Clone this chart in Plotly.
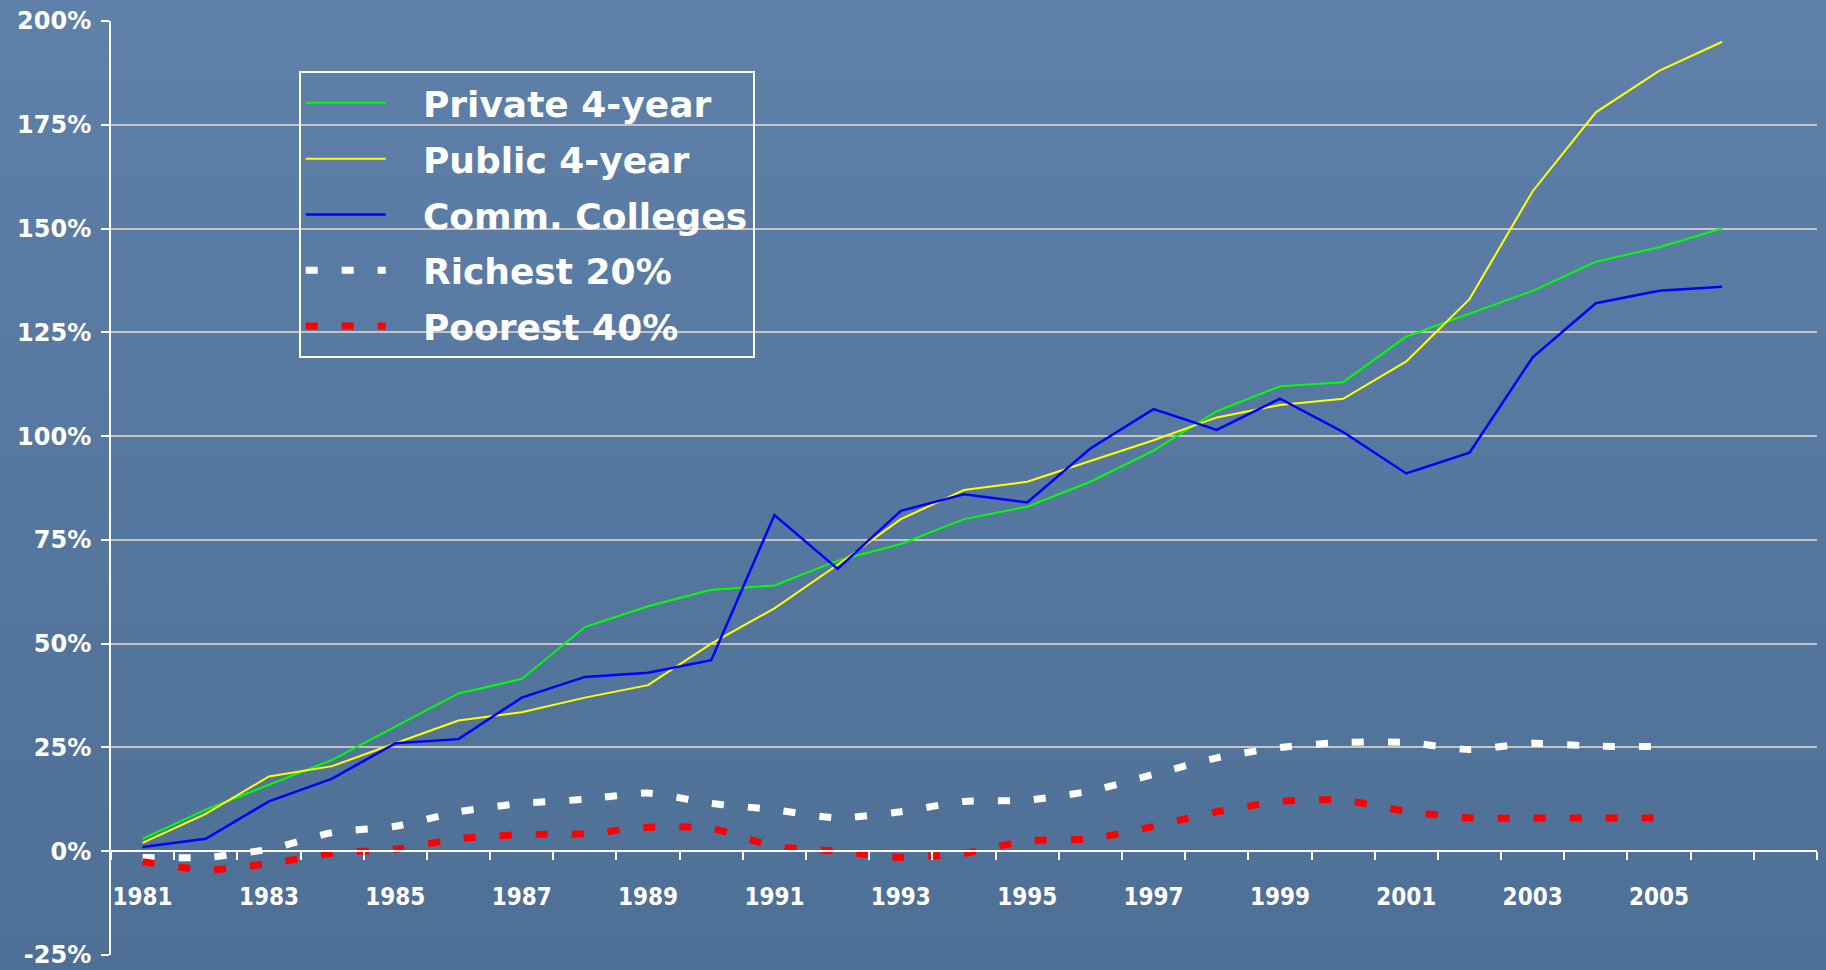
import plotly.graph_objects as go

years = list(range(1981, 2007))
years_dash = list(range(1981, 2006))

private_4yr = [3, 10, 16, 22, 30, 38, 41.5, 54, 59, 63, 64, 70, 74, 80, 83, 89, 96.5, 106, 112, 113, 124, 129.5, 135, 142, 145.5, 150]
public_4yr = [2, 9, 18, 20.5, 26, 31.5, 33.5, 37, 40, 50, 58.5, 69, 80, 87, 89, 94, 99, 104.5, 107.5, 109, 118, 133, 159, 178, 188, 195]
comm_colleges = [1, 3, 12, 17.5, 26, 27, 37, 42, 43, 46, 81, 68, 82, 86, 84, 97, 106.5, 101.5, 109, 101, 91, 96, 119, 132, 135, 136]
richest_20 = [-1.5, -1.5, 0.5, 4.5, 6, 9.5, 11.5, 12.5, 14, 11.5, 10, 8, 9.5, 12, 12.3, 14.5, 18.5, 22.5, 25, 26.2, 26.2, 24.5, 26, 25.3, 25.2]
poorest_40 = [-2.5, -4.5, -3, -0.5, 0.5, 3, 4, 4.2, 5.8, 5.5, 1.2, 0, -1.5, -0.5, 2.5, 3, 6, 9.5, 12, 12.3, 9.6, 8, 8, 8, 8]

series_names = ["Private 4-year", "Public 4-year", "Comm. Colleges", "Richest 20%", "Poorest 40%"]

y_ticks = [-25, 0, 25, 50, 75, 100, 125, 150, 175, 200]
y_tick_labels = ["-25%", "0%", "25%", "50%", "75%", "100%", "125%", "150%", "175%", "200%"]
x_tick_years = list(range(1981, 2006, 2))
x_tick_labels = [str(y) for y in x_tick_years]

W, H = 1826, 970
ml, mr, mt, mb = 111, 9, 21, 15

fig = go.Figure()

pad = "\u00a0\u00a0\u2009"
series = [
    (series_names[0], years, private_4yr, "#00ff00", 2, "solid", "linear"),
    (series_names[1], years, public_4yr, "#ffff00", 2, "solid", "linear"),
    (series_names[2], years, comm_colleges, "#0000ff", 2.5, "solid", "linear"),
    (series_names[3], years_dash, richest_20, "#ffffff", 7, "12px,24px", "spline"),
    (series_names[4], years_dash, poorest_40, "#ff0000", 7, "12px,24px", "spline"),
]
for i, (name, xs, ys, col, w, dash, shape) in enumerate(series):
    fig.add_trace(go.Scatter(
        x=xs, y=ys, name=pad + name, mode="lines",
        line=dict(color=col, width=w, dash=dash, shape=shape, smoothing=0.6),
        legendgroup=f"g{i}",
    ))

# background gradient bands
shapes = []
n = 60
top = (0x5e, 0x80, 0xa9)
bot = (0x4e, 0x70, 0x96)
pw = W - ml - mr
ph = H - mt - mb
for i in range(n):
    t = i / (n - 1)
    c = tuple(int(round(top[k] + (bot[k] - top[k]) * t)) for k in range(3))
    y1 = (H - mb - i * H / n) / ph
    y0 = (H - mb - (i + 1) * H / n) / ph
    shapes.append(dict(type="rect", xref="paper", yref="paper",
                       x0=-ml / pw - 0.01, x1=1 + mr / pw + 0.01,
                       y0=y0 - 0.001, y1=y1 + 0.001,
                       fillcolor="rgb(%d,%d,%d)" % c, line=dict(width=0), layer="below"))

zero_pos = 25 / 225

fig.update_layout(
    width=W, height=H,
    margin=dict(l=ml, r=mr, t=mt, b=mb, autoexpand=False),
    paper_bgcolor="#5577a0",
    plot_bgcolor="rgba(0,0,0,0)",
    shapes=shapes,
    showlegend=True,
    legend=dict(
        x=0.110, y=0.9465, xanchor="left", yanchor="top",
        bgcolor="rgba(0,0,0,0)", bordercolor="#ffffff", borderwidth=2,
        font=dict(family="DejaVu Sans", size=36, color="#ffffff", weight="bold"),
        itemwidth=80, tracegroupgap=6,
    ),
    xaxis=dict(
        range=[1980.5, 2007.5],
        tickvals=x_tick_years, ticktext=x_tick_labels,
        anchor="free", position=zero_pos,
        showgrid=False, zeroline=False,
        showline=True, linecolor="#ffffff", linewidth=2,
        ticks="",
        minor=dict(ticks="outside", tick0=1980.5, dtick=1, ticklen=8, tickcolor="#ffffff", tickwidth=2, showgrid=False),
        tickfont=dict(family="DejaVu Sans Condensed", size=24, color="#ffffff", weight="bold"),
        ticklabelstandoff=24,
        automargin=False,
        fixedrange=True,
    ),
    yaxis=dict(
        range=[-25, 200],
        tickvals=y_ticks, ticktext=y_tick_labels,
        showgrid=True, gridcolor="#c4c4c4", gridwidth=2,
        zeroline=False,
        showline=True, linecolor="#ffffff", linewidth=2,
        ticks="outside", ticklen=8, tickcolor="#ffffff", tickwidth=2,
        tickfont=dict(family="DejaVu Sans", size=24, color="#ffffff", weight="bold"),
        ticklabelstandoff=5,
        automargin=False,
        fixedrange=True,
    ),
)

fig.write_html("out.html", config={"displayModeBar": False},
               post_script="document.body.style.margin='0';document.body.style.overflow='hidden';")
